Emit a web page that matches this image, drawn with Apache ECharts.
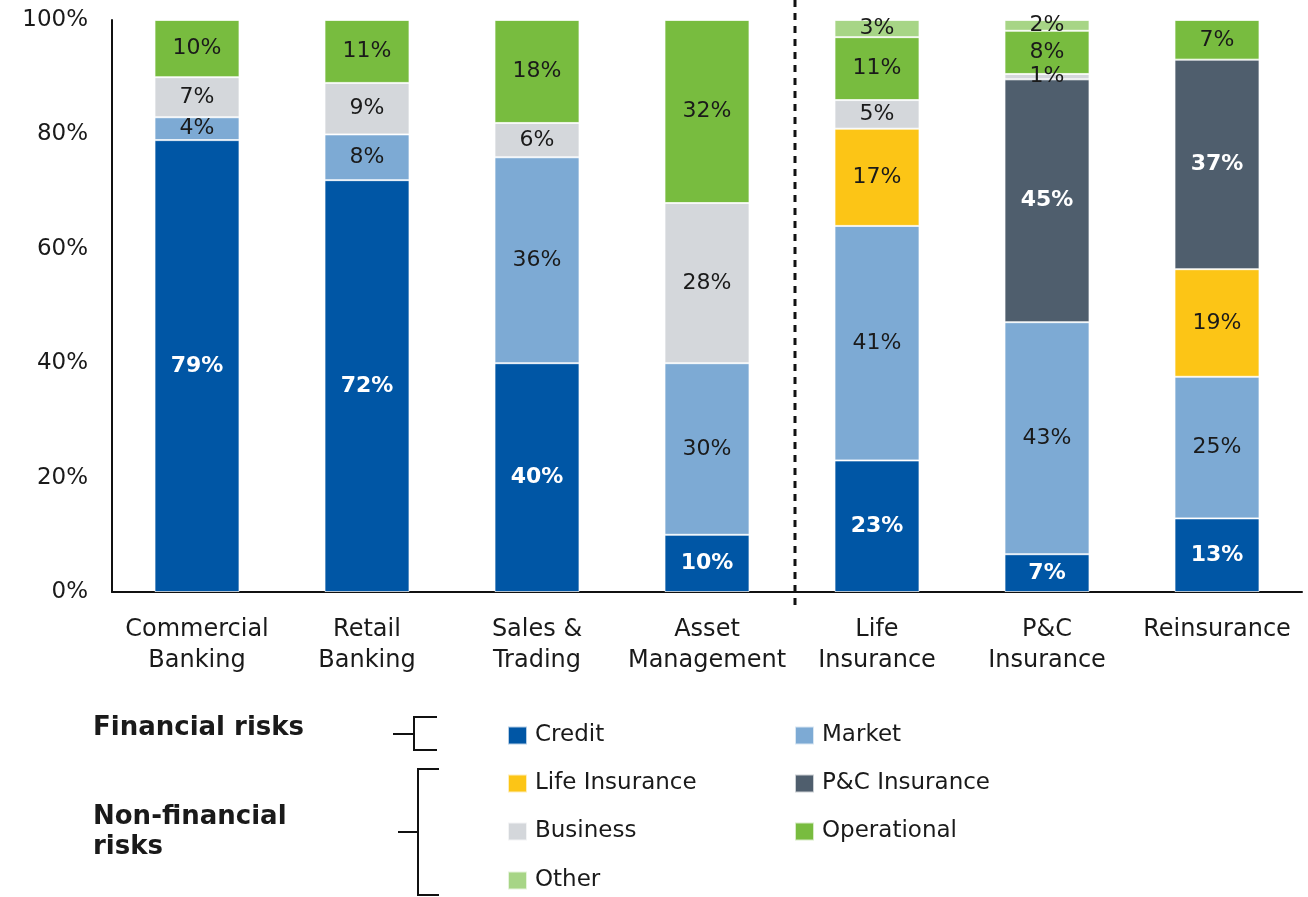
<!DOCTYPE html>
<html>
<head>
<meta charset="utf-8">
<script src="https://cdn.jsdelivr.net/npm/echarts@6/dist/echarts.min.js"></script>
<style>
  html, body { margin: 0; padding: 0; background: #fff; }
  #chart { width: 1308px; height: 897px; }
</style>
</head>
<body>
<div id="chart"></div>
<script>
// categories and stacked shares (labels as printed; bars normalised to 100%)
const categories = ['Commercial\nBanking', 'Retail\nBanking', 'Sales &\nTrading', 'Asset\nManagement', 'Life\nInsurance', 'P&C\nInsurance', 'Reinsurance']
const credit = [79, 72, 40, 10, 23, 7, 13]
const market = [4, 8, 36, 30, 41, 43, 25]
const lifeIns = [0, 0, 0, 0, 17, 0, 19]
const pcIns = [0, 0, 0, 0, 0, 45, 37]
const business = [7, 9, 6, 28, 5, 1, 0]
const operational = [10, 11, 18, 32, 11, 8, 7]
const other = [0, 0, 0, 0, 3, 2, 0]
const yTicks = [0, 20, 40, 60, 80, 100]

const font = 'DejaVu Sans'
const parts = [
  { name: 'Credit', data: credit, color: '#0056A5', light: true },
  { name: 'Market', data: market, color: '#7DAAD4' },
  { name: 'Life Insurance', data: lifeIns, color: '#FCC516' },
  { name: 'P&C Insurance', data: pcIns, color: '#4F5E6D', light: true },
  { name: 'Business', data: business, color: '#D4D7DB' },
  { name: 'Operational', data: operational, color: '#78BC3F' },
  { name: 'Other', data: other, color: '#A7D586' }
]

// each column is drawn as a share of its own total
const totals = categories.map((c, i) => parts.reduce((s, p) => s + p.data[i], 0))

const series = parts.map(p => ({
  name: p.name,
  type: 'bar',
  stack: 'all',
  barWidth: '50%',
  itemStyle: { color: p.color, borderColor: 'rgba(255,255,255,0.7)', borderWidth: 1 },
  label: {
    show: true,
    position: 'inside',
    fontFamily: font,
    fontSize: 22,
    fontWeight: p.light ? 'bold' : 'normal',
    color: p.light ? '#fff' : '#1a1a1a',
    formatter: params => p.data[params.dataIndex] + '%'
  },
  data: p.data.map((v, i) => v ? v / totals[i] * 100 : '-')
}))

// legend placement: two columns, four rows
const legendPos = [
  [507, 734], [794, 734],
  [507, 782], [794, 782],
  [507, 830], [794, 830],
  [507, 879]
]
const legendOrder = ['Credit', 'Market', 'Life Insurance', 'P&C Insurance', 'Business', 'Operational', 'Other']
const legends = legendOrder.map((n, k) => ({
  data: [n],
  left: legendPos[k][0],
  top: legendPos[k][1] - 10,
  padding: 0,
  itemWidth: 19,
  itemHeight: 18,
  itemGap: 0,
  icon: 'rect',
  selectedMode: false,
  textStyle: { fontFamily: font, fontSize: 23, color: '#1a1a1a', padding: [0, 0, 0, 3] }
}))

const chart = echarts.init(document.getElementById('chart'))
chart.setOption({
  animation: false,
  backgroundColor: '#fff',
  legend: legends,
  grid: { left: 112, right: 6, top: 20, bottom: 305 },
  xAxis: {
    type: 'category',
    data: categories,
    axisLine: { lineStyle: { color: '#111', width: 2 } },
    axisTick: { show: false },
    axisLabel: { fontFamily: font, fontSize: 24, color: '#1a1a1a', lineHeight: 31, margin: 22, interval: 0 }
  },
  yAxis: {
    type: 'value',
    min: yTicks[0],
    max: yTicks[yTicks.length - 1],
    interval: yTicks[1] - yTicks[0],
    splitLine: { show: false },
    axisLine: { show: true, lineStyle: { color: '#111', width: 2 } },
    axisTick: { show: false },
    axisLabel: { fontFamily: font, fontSize: 23, color: '#1a1a1a', margin: 24, formatter: v => v + '%' }
  },
  series: series,
  graphic: [
    // divider between banking and insurance
    { type: 'line', shape: { x1: 795, y1: 0, x2: 795, y2: 607 }, style: { stroke: '#111', lineWidth: 3, lineDash: [7, 6] } },
    // financial risks bracket
    { type: 'text', left: 93, top: 715, style: { text: 'Financial risks', fontFamily: font, fontSize: 26, fontWeight: 'bold', fill: '#1a1a1a' } },
    { type: 'polyline', shape: { points: [[437, 717], [414, 717], [414, 750], [437, 750]] }, style: { stroke: '#111', lineWidth: 2, fill: null } },
    { type: 'line', shape: { x1: 393, y1: 734, x2: 414, y2: 734 }, style: { stroke: '#111', lineWidth: 2 } },
    // non-financial risks bracket
    { type: 'text', left: 93, top: 802, style: { text: 'Non-financial\nrisks', fontFamily: font, fontSize: 26, fontWeight: 'bold', lineHeight: 30, fill: '#1a1a1a' } },
    { type: 'polyline', shape: { points: [[439, 769], [418, 769], [418, 895], [439, 895]] }, style: { stroke: '#111', lineWidth: 2, fill: null } },
    { type: 'line', shape: { x1: 398, y1: 832, x2: 418, y2: 832 }, style: { stroke: '#111', lineWidth: 2 } }
  ]
})
</script>
</body>
</html>
